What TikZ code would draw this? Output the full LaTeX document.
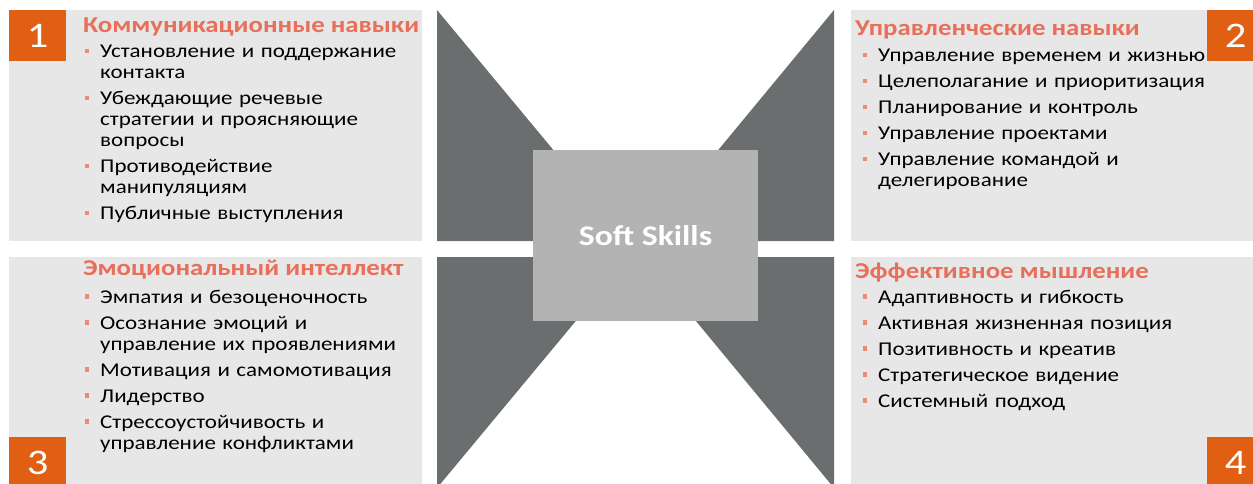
\documentclass[tikz,border=0pt]{standalone}
\usepackage{fontspec}
\setmainfont{Carlito}[FakeStretch=1.18]
\usetikzlibrary{positioning}
\definecolor{panelgray}{HTML}{E7E7E7}
\definecolor{numorange}{HTML}{E15F12}
\definecolor{titlec}{HTML}{E8705B}
\definecolor{bulletc}{HTML}{E88B75}
\definecolor{winggray}{HTML}{6A6E6E}
\definecolor{coregray}{HTML}{B3B3B3}
\newcommand{\sqb}{\textcolor{bulletc}{\rule[4.5pt]{4.5pt}{4.5pt}}}
\newcommand{\itm}[1]{\leavevmode\llap{\sqb\hspace{11pt}}#1\par}

\begin{document}
\begin{tikzpicture}[x=1pt,y=-1pt,
  panel/.style={fill=panelgray,inner sep=0pt,minimum width=413pt,minimum height=231pt},
  numbox/.style={fill=numorange,text=white,inner sep=0pt,minimum width=57pt,minimum height=51pt,font=\fontsize{36}{36}\selectfont},
  title/.style={anchor=base west,inner sep=0pt,text=titlec,font=\fontsize{22.7}{24}\selectfont\bfseries},
  items/.style={anchor=base west,inner sep=0pt,text width=340pt,align=left,font=\fontsize{19.5}{21}\selectfont\setlength{\parskip}{5pt}},
  wing/.style={fill=winggray}]
  \useasboundingbox (0,0) rectangle (1253,484);
  \begin{scope}
  \clip (0,0) rectangle (1253,484);
  % quadrants
  \node[panel,anchor=north west](comm) at (9,10) {};
  \node[panel,anchor=north west](manage) at (851,10) {};
  \node[panel,anchor=north west](emotion) at (9,257) {};
  \node[panel,anchor=north west](thinking) at (851,257) {};
  \node[numbox,anchor=north west](n1) at (comm.north west) {1};
  \node[numbox,anchor=north east](n2) at (manage.north east) {2};
  \node[numbox,anchor=south west](n3) at (emotion.south west) {3};
  \node[numbox,anchor=south east](n4) at (thinking.south east) {4};
  % wings
  \fill[wing] (437,10) -- (437,241) -- (629,241) -- cycle;
  \fill[wing] (834,10) -- (834,241) -- (643,241) -- cycle;
  \fill[wing] (437,488) -- (437,257) -- (629,257) -- cycle;
  \fill[wing] (834,488) -- (834,257) -- (643,257) -- cycle;
  \node[fill=coregray,inner sep=0pt,minimum width=225pt,minimum height=171pt,text=white,font=\fontsize{28.5}{30}\selectfont\bfseries](core) at (645.5,235.5) {Soft Skills};
  % texts
  \node[title](commtitle) at (83,33) {Коммуникационные навыки};
  \node[items](commlist) at (100,58) {%
    \itm{Установление и поддержание\\контакта}
    \itm{Убеждающие речевые\\стратегии и проясняющие\\вопросы}
    \itm{Противодействие\\манипуляциям}
    \itm{Публичные выступления}};
  \node[title](managetitle) at (855,36) {Управленческие навыки};
  \node[items](managelist) at (878,62) {%
    \itm{Управление временем и жизнью}
    \itm{Целеполагание и приоритизация}
    \itm{Планирование и контроль}
    \itm{Управление проектами}
    \itm{Управление командой и\\делегирование}};
  \node[title](emotiontitle) at (83,275) {Эмоциональный интеллект};
  \node[items](emotionlist) at (100,303) {%
    \itm{Эмпатия и безоценочность}
    \itm{Осознание эмоций и\\управление их проявлениями}
    \itm{Мотивация и самомотивация}
    \itm{Лидерство}
    \itm{Стрессоустойчивость и\\управление конфликтами}};
  \node[title](thinkingtitle) at (855,278) {Эффективное мышление};
  \node[items](thinkinglist) at (878,303) {%
    \itm{Адаптивность и гибкость}
    \itm{Активная жизненная позиция}
    \itm{Позитивность и креатив}
    \itm{Стратегическое видение}
    \itm{Системный подход}};
  \end{scope}
\end{tikzpicture}
\end{document}
